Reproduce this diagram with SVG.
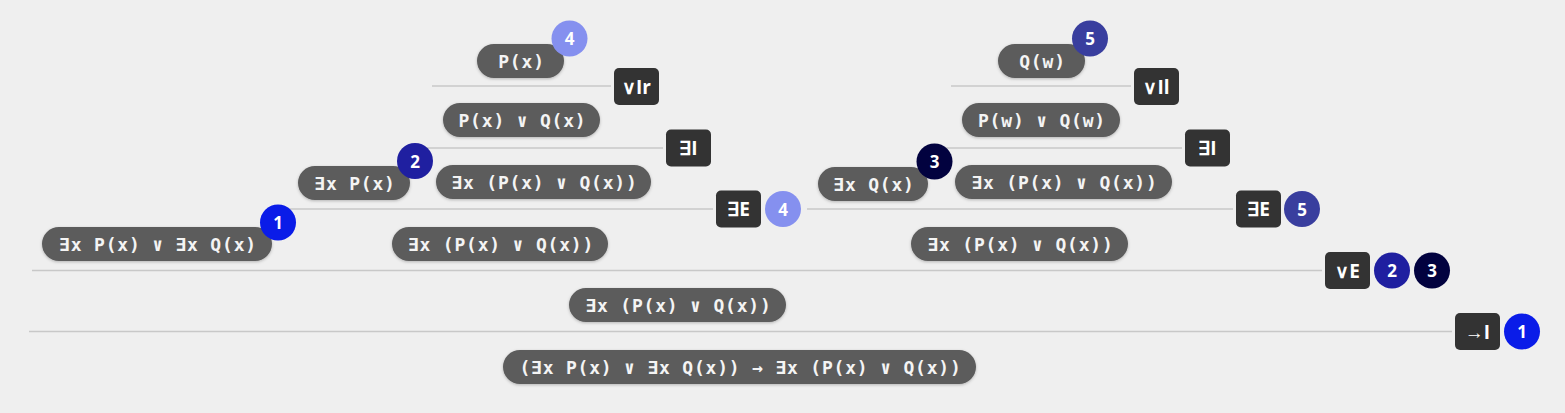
<svg xmlns="http://www.w3.org/2000/svg" width="1565" height="413" viewBox="0 0 1565 413">
<defs>
<filter id="sh" x="-10%" y="-30%" width="120%" height="160%">
<feDropShadow dx="0" dy="1" stdDeviation="1.5" flood-color="#000" flood-opacity="0.25"/>
</filter>
<style>
.pill{fill:#5b5b5b;filter:url(#sh)}
.pt{font-family:"DejaVu Sans Mono",monospace;font-weight:bold;font-size:18px;letter-spacing:0.8px;fill:#f4f4f4;text-anchor:middle;dominant-baseline:central}
.rule{fill:#333333}
.rt{font-family:"Open Sans","Noto Sans",sans-serif;font-weight:bold;font-size:19px;fill:#ffffff;text-anchor:middle;dominant-baseline:central}
.bt{font-family:"Open Sans","Noto Sans",sans-serif;font-weight:bold;font-size:17px;fill:#ffffff;text-anchor:middle;dominant-baseline:central}
.ln{stroke:#c8c8c8;stroke-width:1.5;fill:none}
.b1{fill:#0a1ce8}.b2{fill:#1f1fa0}.b3{fill:#02023f}.b4{fill:#8590ef}.b5{fill:#393e9e}
</style>
</defs>
<rect width="1565" height="413" fill="#efefef"/>
<g id="connectors">
<line class="ln" x1="432" y1="86" x2="611" y2="86"/>
<line class="ln" x1="951" y1="86" x2="1131" y2="86"/>
<line class="ln" x1="425" y1="148" x2="663" y2="148"/>
<line class="ln" x1="944" y1="148" x2="1182" y2="148"/>
<line class="ln" x1="287" y1="209" x2="713" y2="209"/>
<line class="ln" x1="807" y1="209" x2="1233" y2="209"/>
<line class="ln" x1="32" y1="270.5" x2="1322" y2="270.5"/>
<line class="ln" x1="29" y1="331.5" x2="1452" y2="331.5"/>
</g>
<g id="n-px"><rect class="pill" x="477" y="44" width="87" height="34" rx="17"/><text class="pt" x="521.5" y="61">P(x)</text></g>
<g id="n-qw"><rect class="pill" x="998" y="44" width="87" height="34" rx="17"/><text class="pt" x="1042.5" y="61">Q(w)</text></g>
<g id="n-pxqx"><rect class="pill" x="443" y="103" width="157" height="34" rx="17"/><text class="pt" x="522.5" y="120">P(x) ∨ Q(x)</text></g>
<g id="n-pwqw"><rect class="pill" x="962" y="103" width="158" height="34" rx="17"/><text class="pt" x="1042" y="120">P(w) ∨ Q(w)</text></g>
<g id="n-expx"><rect class="pill" x="298" y="166" width="112" height="34" rx="17"/><text class="pt" x="355" y="183">∃x P(x)</text></g>
<g id="n-ex1"><rect class="pill" x="436" y="165" width="215" height="34" rx="17"/><text class="pt" x="544.5" y="182">∃x (P(x) ∨ Q(x))</text></g>
<g id="n-exqx"><rect class="pill" x="818" y="167" width="110" height="34" rx="17"/><text class="pt" x="874" y="184">∃x Q(x)</text></g>
<g id="n-ex2"><rect class="pill" x="955" y="165" width="217" height="34" rx="17"/><text class="pt" x="1064.5" y="182">∃x (P(x) ∨ Q(x))</text></g>
<g id="n-prem"><rect class="pill" x="42" y="227" width="230" height="34" rx="17"/><text class="pt" x="158" y="244">∃x P(x) ∨ ∃x Q(x)</text></g>
<g id="n-ex3"><rect class="pill" x="392" y="227" width="216" height="34" rx="17"/><text class="pt" x="501" y="244">∃x (P(x) ∨ Q(x))</text></g>
<g id="n-ex4"><rect class="pill" x="911" y="227" width="217" height="34" rx="17"/><text class="pt" x="1020.5" y="244">∃x (P(x) ∨ Q(x))</text></g>
<g id="n-ex5"><rect class="pill" x="569" y="288" width="217" height="34" rx="17"/><text class="pt" x="678.5" y="305">∃x (P(x) ∨ Q(x))</text></g>
<g id="n-final"><rect class="pill" x="503" y="350" width="473" height="34" rx="17"/><text class="pt" x="740.5" y="367">(∃x P(x) ∨ ∃x Q(x)) → ∃x (P(x) ∨ Q(x))</text></g>
<g id="r-vir"><rect class="rule" x="614" y="68" width="45" height="37" rx="5"/><text class="rt" x="636.5" y="86.5">∨Ir</text></g>
<g id="r-vil"><rect class="rule" x="1134" y="68" width="45" height="37" rx="5"/><text class="rt" x="1156.5" y="86.5">∨Il</text></g>
<g id="r-ei1"><rect class="rule" x="666" y="129.5" width="45" height="37" rx="5"/><text class="rt" x="688.5" y="148">∃I</text></g>
<g id="r-ei2"><rect class="rule" x="1185" y="129.5" width="45" height="37" rx="5"/><text class="rt" x="1207.5" y="148">∃I</text></g>
<g id="r-ee1"><rect class="rule" x="716" y="190.5" width="45" height="37" rx="5"/><text class="rt" x="738.5" y="209">∃E</text></g>
<g id="r-ee2"><rect class="rule" x="1236" y="190.5" width="45" height="37" rx="5"/><text class="rt" x="1258.5" y="209">∃E</text></g>
<g id="r-ve"><rect class="rule" x="1325" y="252" width="45" height="37" rx="5"/><text class="rt" x="1347.5" y="270.5">∨E</text></g>
<g id="r-ii"><rect class="rule" x="1455" y="313" width="45" height="37" rx="5"/><text class="rt" x="1477.5" y="331.5">→I</text></g>
<g id="badges">
<g id="bd-4a"><circle class="b4" cx="569.5" cy="38.5" r="18"/><text class="bt" x="569.5" y="38.5">4</text></g>
<g id="bd-5a"><circle class="b5" cx="1090" cy="38.5" r="18"/><text class="bt" x="1090" y="38.5">5</text></g>
<g id="bd-2a"><circle class="b2" cx="415" cy="161" r="18"/><text class="bt" x="415" y="161">2</text></g>
<g id="bd-3a"><circle class="b3" cx="934.5" cy="161.5" r="18"/><text class="bt" x="934.5" y="161.5">3</text></g>
<g id="bd-1a"><circle class="b1" cx="278" cy="222.5" r="18"/><text class="bt" x="278" y="222.5">1</text></g>
<g id="bd-4b"><circle class="b4" cx="783" cy="209" r="18"/><text class="bt" x="783" y="209">4</text></g>
<g id="bd-5b"><circle class="b5" cx="1302" cy="209" r="18"/><text class="bt" x="1302" y="209">5</text></g>
<g id="bd-2b"><circle class="b2" cx="1392" cy="270.5" r="18"/><text class="bt" x="1392" y="270.5">2</text></g>
<g id="bd-3b"><circle class="b3" cx="1432" cy="270.5" r="18"/><text class="bt" x="1432" y="270.5">3</text></g>
<g id="bd-1b"><circle class="b1" cx="1522" cy="331.5" r="18"/><text class="bt" x="1522" y="331.5">1</text></g>
</g>
</svg>
